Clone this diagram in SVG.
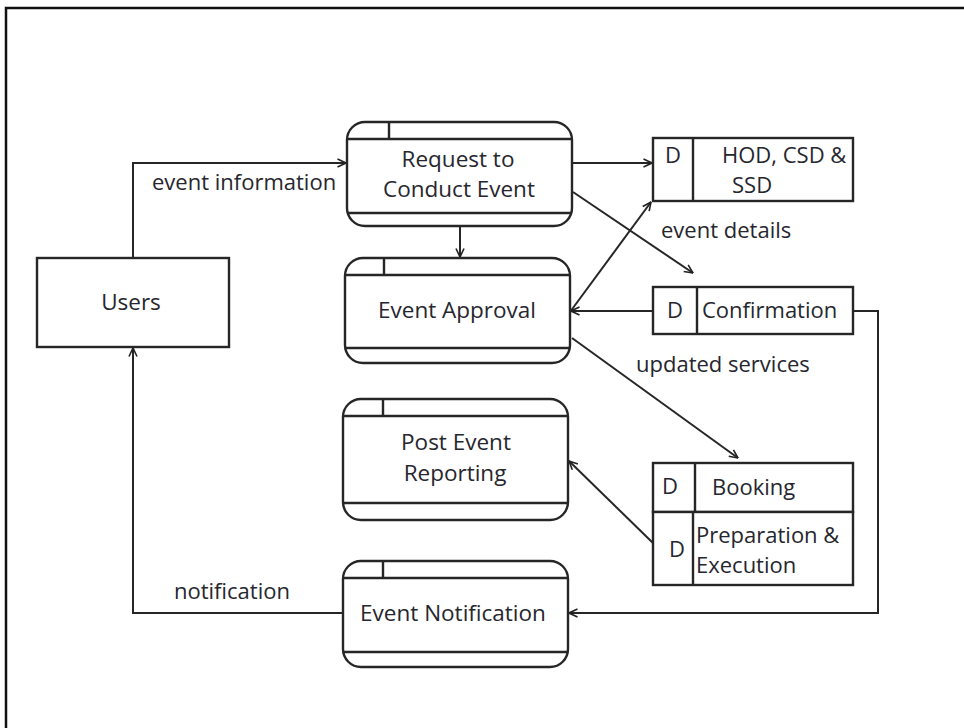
<svg xmlns="http://www.w3.org/2000/svg" width="964" height="728" viewBox="0 0 964 728">
<defs>
<marker id="arr" viewBox="0 0 10 10" refX="9.5" refY="5" markerWidth="10" markerHeight="10" orient="auto" markerUnits="userSpaceOnUse">
<path d="M1,1 L9.5,5 L1,9" fill="none" stroke="#222" stroke-width="1.6"/>
</marker>
</defs>
<style>
.bx{fill:#fff;stroke:#262626;stroke-width:2.4}
.ln{fill:none;stroke:#262626;stroke-width:2.4}
.cn{fill:none;stroke:#262626;stroke-width:2}
text{font-family:"Open Sans","Noto Sans","Liberation Sans",sans-serif;font-size:22px;fill:#26262e}
.c{text-anchor:middle}
.t{font-size:22.5px}
</style>
<rect x="0" y="0" width="964" height="728" fill="#fff"/>
<path d="M6,728 L6,8 L964,8" fill="none" stroke="#111" stroke-width="2.5"/>

<g id="connectors">
<path class="cn" d="M133,258 L133,163 L346,163" marker-end="url(#arr)"/>
<path class="cn" d="M572,163 L652,163" marker-end="url(#arr)"/>
<path class="cn" d="M573,192 L693,273" marker-end="url(#arr)"/>
<path class="cn" d="M460,226 L460,257" marker-end="url(#arr)"/>
<path class="cn" d="M570,312 L651,202" marker-end="url(#arr)"/>
<path class="cn" d="M653,311 L571,311" marker-end="url(#arr)"/>
<path class="cn" d="M572,338 L738,458" marker-end="url(#arr)"/>
<path class="cn" d="M653,543 L569,461" marker-end="url(#arr)"/>
<path class="cn" d="M853,311 L878,311 L878,613 L569,613" marker-end="url(#arr)"/>
<path class="cn" d="M343,613 L133,613 L133,348" marker-end="url(#arr)"/>
<text x="152" y="190">event information</text>
<text x="661" y="238">event details</text>
<text x="636" y="372">updated services</text>
<text x="174" y="599">notification</text>
</g>

<g id="users">
<rect class="bx" x="37" y="258" width="192" height="89"/>
<text class="c t" x="131" y="310">Users</text>
</g>

<g id="request">
<rect class="bx" x="347" y="122" width="225" height="104" rx="18"/>
<path class="ln" d="M347,139 H572 M347,213 H572 M389,122 V139"/>
<text class="c t" x="458" y="167">Request to</text>
<text class="c t" x="459" y="197">Conduct Event</text>
</g>

<g id="approval">
<rect class="bx" x="345" y="258" width="225" height="105" rx="18"/>
<path class="ln" d="M345,275 H570 M345,348 H570 M384,258 V275"/>
<text class="c t" x="457" y="318">Event Approval</text>
</g>

<g id="post">
<rect class="bx" x="343" y="399" width="225" height="121" rx="18"/>
<path class="ln" d="M343,416 H568 M343,503 H568 M383,399 V416"/>
<text class="c t" x="456" y="450">Post Event</text>
<text class="c t" x="455" y="481">Reporting</text>
</g>

<g id="notification">
<rect class="bx" x="343" y="561" width="225" height="106" rx="18"/>
<path class="ln" d="M343,578 H568 M343,652 H568 M383,561 V578"/>
<text class="c t" x="453" y="621">Event Notification</text>
</g>

<g id="hod">
<rect class="bx" x="653" y="138" width="200" height="63"/>
<path class="ln" d="M693,138 V201"/>
<text class="c" x="673" y="163">D</text>
<text x="722" y="163">HOD, CSD &amp;</text>
<text x="732" y="193">SSD</text>
</g>

<g id="confirmation">
<rect class="bx" x="653" y="287" width="200" height="47"/>
<path class="ln" d="M697,287 V334"/>
<text class="c" x="675" y="318">D</text>
<text x="702" y="318">Confirmation</text>
</g>

<g id="booking">
<rect class="bx" x="653" y="463" width="200" height="49"/>
<path class="ln" d="M695,463 V512"/>
<text class="c" x="670" y="494">D</text>
<text x="712" y="495">Booking</text>
</g>

<g id="preparation">
<rect class="bx" x="653" y="512" width="200" height="73"/>
<path class="ln" d="M693,512 V585"/>
<text class="c" x="677" y="557">D</text>
<text x="696" y="543">Preparation &amp;</text>
<text x="696" y="573">Execution</text>
</g>
</svg>
